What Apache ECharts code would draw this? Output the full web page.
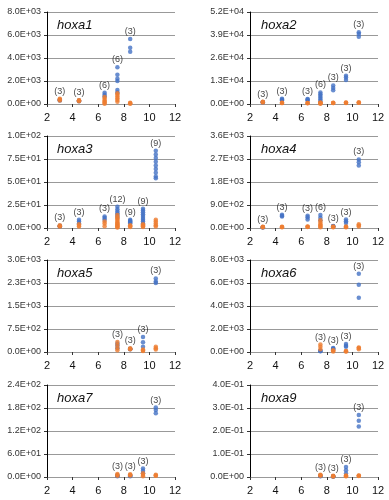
<!DOCTYPE html>
<html>
<head>
<meta charset="utf-8">
<script src="https://cdn.jsdelivr.net/npm/echarts@6/dist/echarts.min.js"></script>
<style>
html,body{margin:0;padding:0;background:#fff;}
#c{width:389px;height:500px;}
</style>
</head>
<body>
<div id="c"></div>
<script>
// x positions (stages)
const stages = [3, 4.5, 6.5, 7.5, 8.5, 9.5, 10.5];
const xTicks = [2, 4, 6, 8, 10, 12];

const genes = ['hoxa1', 'hoxa2', 'hoxa3', 'hoxa4', 'hoxa5', 'hoxa6', 'hoxa7', 'hoxa9'];
const yMax = [8000, 52000, 100, 3600, 3000, 8000, 240, 0.4];
const yStep = [2000, 13000, 25, 900, 750, 2000, 60, 0.1];

// values per stage (blue series / orange series), and replicate counts
const hoxa1Blue = [[300,350,380],[250,280,300],[980,800,650],[3200,2550,2200,2000,1220,1000],[5650,4900,4550],[],[]];
const hoxa1Orange = [[300,400,450],[250,300,320],[600,450,300,200,100,30],[930,800,650,500,350,200],[30,60,100],[],[]];
const hoxa1N = [3,3,6,6,3,null,null];

const hoxa2Blue = [[800,1000,1200],[2000,2500,3000],[2000,2500,2800],[6500,5500,4500,3500,2500,1500],[10500,9000,7800],[16000,15000,13500],[40500,39500,38000]];
const hoxa2Orange = [[900,1100,1300],[500,600,700],[400,500,600],[800,600,500,400,200],[500,600,700],[600,700,800],[700,800,900]];
const hoxa2N = [3,3,3,6,3,3,3];

const hoxa3Blue = [[1.5,2,2.5],[9,7,5],[12.5,11,9],[23,20.5,18,16,14,12],[9,8,7,6,5],[21,19,17,15,13,11,9,7,5],[84,80,76,72,68,64,60,56,54]];
const hoxa3Orange = [[1.5,2,3],[4,2.5,1.5],[7,5,2],[14,12,10.5,9,7.5,6,5,4,3,2,1,0.5],[3,2,1],[4,3,2,1],[9,7,5,3,1.5]];
const hoxa3N = [3,3,3,12,9,9,9];

const hoxa4Blue = [[20,30,40],[520,480,450],[480,420,330],[510,400,300],[60,80,70],[330,260,200],[2680,2570,2450]];
const hoxa4Orange = [[30,40,50],[30,40,50],[40,50,60],[300,220,150,100,60,30],[60,40,30],[60,40,30],[150,100,60]];
const hoxa4N = [3,3,3,6,3,3,3];

const hoxa5Blue = [[],[],[],[280,200,120],[100,90,110],[490,320,170],[2400,2300,2250]];
const hoxa5Orange = [[],[],[],[330,230,130,60],[90,100,120],[80,50,30],[170,120,80]];
const hoxa5N = [null,null,null,3,3,3,3];

const hoxa6Blue = [[],[],[],[100,80,60],[350,300,250],[700,550,450],[6800,5850,4720]];
const hoxa6Orange = [[],[],[],[650,450,250],[100,50,150],[80,60,40],[400,350,250]];
const hoxa6N = [null,null,null,3,3,3,3];

const hoxa7Blue = [[],[],[],[4,3,2],[4,3,2],[22,16,10],[181,175,166]];
const hoxa7Orange = [[],[],[],[8,5,3],[7,5,4],[10,5,2],[6,4,3]];
const hoxa7N = [null,null,null,3,3,3,3];

const hoxa9Blue = [[],[],[],[0.005,0.004,0.003],[0.003,0.002,0.002],[0.044,0.029,0.015],[0.27,0.245,0.22]];
const hoxa9Orange = [[],[],[],[0.01,0.008,0.005],[0.005,0.003,0.002],[0.006,0.004,0.003],[0.006,0.005,0.004]];
const hoxa9N = [null,null,null,3,3,3,3];

const blues = [hoxa1Blue, hoxa2Blue, hoxa3Blue, hoxa4Blue, hoxa5Blue, hoxa6Blue, hoxa7Blue, hoxa9Blue];
const oranges = [hoxa1Orange, hoxa2Orange, hoxa3Orange, hoxa4Orange, hoxa5Orange, hoxa6Orange, hoxa7Orange, hoxa9Orange];
const counts = [hoxa1N, hoxa2N, hoxa3N, hoxa4N, hoxa5N, hoxa6N, hoxa7N, hoxa9N];

const FONT = 'Liberation Sans, Arial, sans-serif';
const BLUE = '#4472C4';
const ORANGE = '#ED7D31';

function sci(v) {
  const parts = Number(v).toExponential(1).split('e');
  const e = parts[1];
  const sign = e[0] === '-' ? '-' : '+';
  const digits = e.replace(/^[+-]/, '').padStart(2, '0');
  return parts[0] + 'E' + sign + digits;
}

function flatten(groups) {
  const out = [];
  groups.forEach((vals, j) => vals.forEach(v => out.push([stages[j], v])));
  return out;
}

const colLeft = [47, 250];
const rowTop = [12, 136, 260, 385];
const gw = 128, gh = 92;

const grids = [], xAxes = [], yAxes = [], series = [], titles = [];
genes.forEach((g, i) => {
  const col = i % 2, row = Math.floor(i / 2);
  grids.push({ left: colLeft[col], top: rowTop[row], width: gw, height: gh });
  xAxes.push({
    gridIndex: i, type: 'value', min: xTicks[0], max: xTicks[xTicks.length - 1], interval: 2,
    axisLine: { show: true, lineStyle: { color: '#999', width: 1 } },
    axisTick: { show: true, length: 3, lineStyle: { color: '#333' } },
    axisLabel: { fontSize: 11, color: '#111', fontFamily: FONT, margin: 8 },
    splitLine: { show: false }
  });
  yAxes.push({
    gridIndex: i, type: 'value', min: 0, max: yMax[i], interval: yStep[i],
    axisLine: { show: true, lineStyle: { color: '#000', width: 1 } },
    axisTick: { show: true, length: 3, lineStyle: { color: '#333' } },
    axisLabel: { fontSize: 9, color: '#333', fontFamily: FONT, margin: 6, formatter: sci },
    splitLine: { show: true, lineStyle: { color: '#999', width: 1 } }
  });
  titles.push({
    text: g, left: col === 0 ? 57 : 261, top: rowTop[row] + 7, padding: 0,
    textStyle: { fontStyle: 'italic', fontWeight: 'normal', fontSize: 13, color: '#111', fontFamily: FONT }
  });
  series.push({
    type: 'scatter', xAxisIndex: i, yAxisIndex: i, symbol: 'circle', symbolSize: 4.5,
    itemStyle: { color: BLUE }, data: flatten(blues[i]), z: 2, silent: true
  });
  series.push({
    type: 'scatter', xAxisIndex: i, yAxisIndex: i, symbol: 'circle', symbolSize: 4.5,
    itemStyle: { color: ORANGE }, data: flatten(oranges[i]), z: 3, silent: true
  });
  const labels = [];
  counts[i].forEach((n, j) => {
    if (n == null) return;
    const top = Math.max(...blues[i][j], ...oranges[i][j]);
    labels.push({ value: [stages[j], top], n: n });
  });
  series.push({
    type: 'scatter', xAxisIndex: i, yAxisIndex: i, symbolSize: 0, z: 4, silent: true,
    data: labels,
    label: { show: true, position: 'top', distance: 3, fontSize: 9, color: '#111', fontFamily: FONT,
      formatter: p => '(' + p.data.n + ')' }
  });
});

const chart = echarts.init(document.getElementById('c'), null, { renderer: 'canvas' });
chart.setOption({
  animation: false,
  backgroundColor: '#fff',
  title: titles,
  grid: grids,
  xAxis: xAxes,
  yAxis: yAxes,
  series: series
});
</script>
</body>
</html>
